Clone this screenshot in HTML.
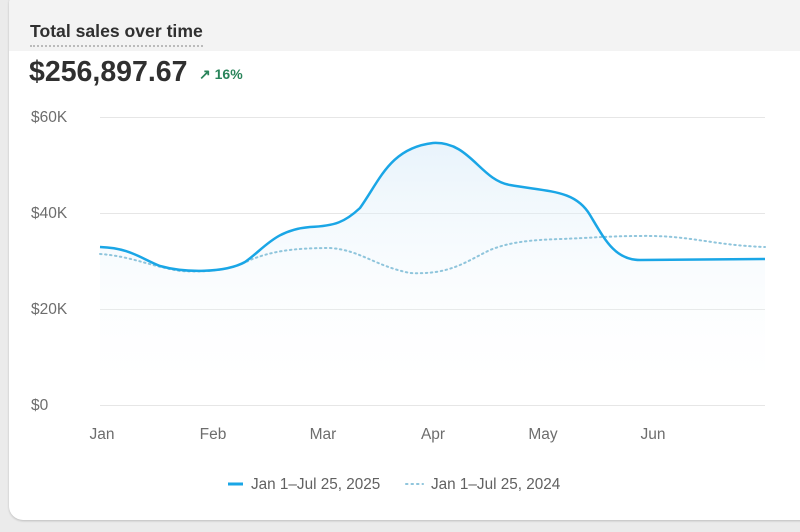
<!DOCTYPE html>
<html><head><style>
body{margin:0;width:800px;height:532px;background:#ebebeb;font-family:"Liberation Sans",sans-serif;overflow:hidden;position:relative}
.card{position:absolute;left:9px;top:-10px;width:820px;height:530px;background:#fff;border-radius:14px;box-shadow:0 1px 2px rgba(0,0,0,.2);overflow:hidden}
.hdr{position:absolute;left:0;top:0;width:100%;height:61px;background:#f3f3f3}
.t{position:absolute;left:21px;top:31px;font-size:17.6px;font-weight:bold;color:#303030;border-bottom:2px dotted #bbb;padding-bottom:3px}
.v{position:absolute;left:20px;top:66px;font-size:28.5px;font-weight:bold;color:#303030}
.p{position:absolute;left:190px;top:76px;font-size:14px;font-weight:bold;color:#29845a}
</style></head><body>
<div class="card"><div class="hdr"></div>
<div class="t">Total sales over time</div>
<div class="v">$256,897.67</div>
<div class="p">↗ 16%</div>
</div>
<svg width="800" height="532" style="position:absolute;left:0;top:0" font-family="Liberation Sans, sans-serif">
<defs><linearGradient id="g" x1="0" y1="0" x2="0" y2="1"><stop offset="0" stop-color="#d6eaf8" stop-opacity=".55"/><stop offset="1" stop-color="#fff" stop-opacity="0"/></linearGradient></defs>
<g stroke="#e6e6e6" stroke-width="1"><line x1="100" x2="765" y1="117.5" y2="117.5"/><line x1="100" x2="765" y1="213.5" y2="213.5"/><line x1="100" x2="765" y1="309.5" y2="309.5"/><line x1="100" x2="765" y1="405.5" y2="405.5"/></g>
<g fill="#6d6d6d" font-size="15.5"><text x="31" y="122">$60K</text><text x="31" y="218">$40K</text><text x="31" y="314">$20K</text><text x="31" y="410">$0</text>
<g text-anchor="middle"><text x="102" y="439">Jan</text><text x="213" y="439">Feb</text><text x="323" y="439">Mar</text><text x="433" y="439">Apr</text><text x="543" y="439">May</text><text x="653" y="439">Jun</text></g></g>
<path d="M100,247 C130,248 140,258 160,266 C185,273 225,273 245,262 C265,248 275,230 310,227 C335,226 345,222 360,208 C380,180 390,148 433,143 C470,141 480,180 510,185 C550,192 575,190 590,215 C605,240 615,260 640,260 L765,259 L765,405 L100,405 Z" fill="url(#g)"/>
<path d="M100,254 C130,256 150,266 180,271 C215,273 235,268 250,260 C270,252 290,248 330,248 C360,250 375,266 410,273 C450,275 465,262 490,250 C510,242 530,240 560,239 C590,238 610,236 640,236 C690,235 710,245 765,247" fill="none" stroke="#8fc5dc" stroke-width="2" stroke-dasharray="1.5 3.5" stroke-linecap="round"/>
<path d="M100,247 C130,248 140,258 160,266 C185,273 225,273 245,262 C265,248 275,230 310,227 C335,226 345,222 360,208 C380,180 390,148 433,143 C470,141 480,180 510,185 C550,192 575,190 590,215 C605,240 615,260 640,260 L765,259" fill="none" stroke="#1aa6e6" stroke-width="2.5"/>
<line x1="228" x2="243" y1="484" y2="484" stroke="#1aa6e6" stroke-width="3"/>
<line x1="406" x2="423" y1="484" y2="484" stroke="#8fc5dc" stroke-width="2" stroke-dasharray="1.5 4" stroke-linecap="round"/>
<g fill="#616161" font-size="15.3"><text x="251" y="489">Jan 1–Jul 25, 2025</text><text x="431" y="489">Jan 1–Jul 25, 2024</text></g>
</svg>
</body></html>
